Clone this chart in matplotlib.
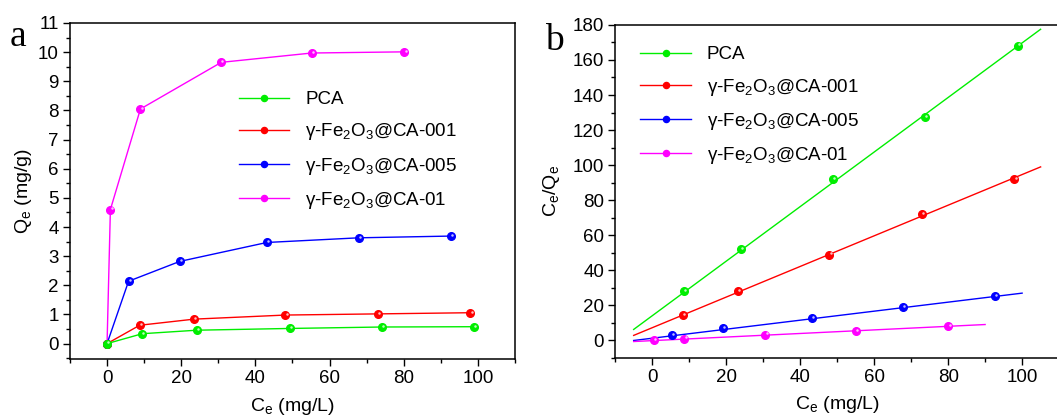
import matplotlib
matplotlib.use("Agg")
import matplotlib.pyplot as plt
import matplotlib.transforms as mtransforms
from matplotlib.ticker import MultipleLocator

# ---- data ----
labels = ["PCA", "γ-Fe$_2$O$_3$@CA-001", "γ-Fe$_2$O$_3$@CA-005", "γ-Fe$_2$O$_3$@CA-01"]
colors = ["#00ee00", "#ff0000", "#0000ff", "#ff00ff"]

# (a) adsorption isotherms, Qe vs Ce
ce_pca = [0, 9.5, 24.2, 49.2, 74.2, 99.0]
qe_pca = [0, 0.34, 0.46, 0.52, 0.57, 0.58]
ce_001 = [0, 8.8, 23.5, 48.1, 73.1, 98.0]
qe_001 = [0, 0.63, 0.84, 0.98, 1.02, 1.06]
ce_005 = [0, 5.8, 19.6, 43.1, 67.9, 92.8]
qe_005 = [0, 2.14, 2.82, 3.47, 3.63, 3.69]
ce_01 = [0, 0.9, 9.0, 30.8, 55.2, 80.2]
qe_01 = [0, 4.6, 8.05, 9.65, 9.97, 10.01]

# (b) Langmuir plot, Ce/Qe vs Ce
b_ce_pca = [8.6, 23.9, 48.8, 73.8, 98.9]
b_cq_pca = [28.0, 52.2, 92.2, 127.4, 168.2]
b_ce_001 = [8.4, 23.1, 47.9, 72.9, 97.9]
b_cq_001 = [14.7, 28.0, 49.0, 72.2, 92.0]
b_ce_005 = [5.4, 19.1, 43.1, 67.8, 92.7]
b_cq_005 = [2.9, 6.9, 12.6, 19.0, 25.3]
b_ce_01 = [0.5, 8.7, 30.6, 55.1, 80.1]
b_cq_01 = [0.0, 1.1, 3.4, 5.5, 8.2]

# fitted lines (end points)
fit_x = [[-5, 105], [-5, 105], [-5, 100], [-5, 90]]
fit_y = [[6.3, 177.5], [2.9, 99.0], [0.0, 27.0], [-0.6, 9.1]]

plt.rcParams["font.family"] = ["Liberation Sans", "DejaVu Sans"]
plt.rcParams["mathtext.fontset"] = "custom"
plt.rcParams["mathtext.rm"] = "Liberation Sans"
plt.rcParams["mathtext.it"] = "Liberation Sans:italic"
plt.rcParams["mathtext.default"] = "regular"

fig = plt.figure(figsize=(10.57, 4.18), dpi=100)
ax1 = fig.add_axes([0.0662, 0.141, 0.421, 0.804])
ax2 = fig.add_axes([0.582, 0.1435, 0.42, 0.797])

MS = 5.5


def shine(ax, x, y, z):
    # small white glint so the dots look like little balls
    off = mtransforms.ScaledTranslation(1.2 / 100, 1.2 / 100, fig.dpi_scale_trans)
    ax.plot(x, y, linestyle="none", marker="o", markersize=1.8, color="white",
            alpha=0.75, markeredgewidth=0, transform=ax.transData + off, zorder=z)


series_a = [(ce_pca, qe_pca), (ce_001, qe_001), (ce_005, qe_005), (ce_01, qe_01)]
# draw magenta first so green sits on top at the origin
for i in [3, 2, 1, 0]:
    x, y = series_a[i]
    z = 3 + 2 * (3 - i)
    ax1.plot(x, y, color=colors[i], marker="o", markersize=MS, linewidth=1.0,
             markeredgecolor=colors[i], label=labels[i], zorder=z)
    shine(ax1, x, y, z + 0.5)

series_b = [(b_ce_pca, b_cq_pca), (b_ce_001, b_cq_001), (b_ce_005, b_cq_005), (b_ce_01, b_cq_01)]
for i, (x, y) in enumerate(series_b):
    ax2.plot(fit_x[i], fit_y[i], color=colors[i], linewidth=1.0, zorder=2)
    ax2.plot(x, y, linestyle="none", marker="o", markersize=MS,
             color=colors[i], markeredgecolor=colors[i], zorder=3)
    shine(ax2, x, y, 4)

for ax in (ax1, ax2):
    ax.tick_params(which="both", direction="out", top=False, right=False, labelsize=13.5, width=1.0, pad=3)
    ax.tick_params(which="major", length=5)
    ax.tick_params(which="minor", length=3)
    for s in ax.spines.values():
        s.set_linewidth(1.1)
    ax.set_xlim(-10, 110)
    ax.xaxis.set_major_locator(MultipleLocator(20))
    ax.xaxis.set_minor_locator(MultipleLocator(10))
    ax.set_xlabel("C$_e$ (mg/L)", fontsize=14, labelpad=6)

ax1.set_ylim(-0.53, 11)
ax1.yaxis.set_major_locator(MultipleLocator(1))
ax1.yaxis.set_minor_locator(MultipleLocator(0.5))
ax1.set_ylabel("Q$_e$ (mg/g)", fontsize=14, labelpad=3)

ax2.set_ylim(-10, 180)
ax2.yaxis.set_major_locator(MultipleLocator(20))
ax2.yaxis.set_minor_locator(MultipleLocator(10))
ax2.set_ylabel("C$_e$/Q$_e$", fontsize=14, labelpad=8)

# legends (same handles in both panels)
h, l = ax1.get_legend_handles_labels()
h, l = h[::-1], l[::-1]
leg_kw = dict(loc="upper left", frameon=False, fontsize=13.5, handlelength=2.7,
              labelspacing=0.7, handletextpad=0.85, markerscale=0.8, borderpad=0.2)
ax1.legend(h, l, bbox_to_anchor=(0.35, 0.836), **leg_kw)
ax2.legend(h, l, bbox_to_anchor=(0.027, 0.975), **leg_kw)

fig.text(0.009, 0.89, "a", fontsize=27, family="Liberation Serif")
fig.text(0.516, 0.88, "b", fontsize=27, family="Liberation Serif")

fig.savefig("out.png", dpi=100)
